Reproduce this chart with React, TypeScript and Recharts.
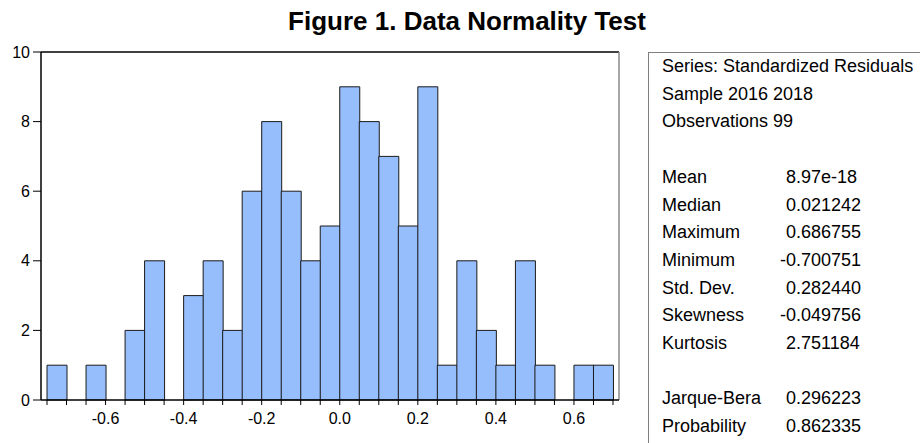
import { BarChart, Bar, XAxis, YAxis, ReferenceLine } from 'recharts';

// histogram bins (width 0.05), mid points and counts
const binMid = [
  -0.725, -0.675, -0.625, -0.575, -0.525, -0.475, -0.425, -0.375, -0.325, -0.275,
  -0.225, -0.175, -0.125, -0.075, -0.025, 0.025, 0.075, 0.125, 0.175, 0.225,
  0.275, 0.325, 0.375, 0.425, 0.475, 0.525, 0.575, 0.625, 0.675,
];
const counts = [1, 0, 1, 0, 2, 4, 0, 3, 4, 2, 6, 8, 6, 4, 5, 9, 8, 7, 5, 9, 1, 4, 2, 1, 4, 1, 0, 1, 1];

const binEdges = [
  -0.75, -0.7, -0.65, -0.6, -0.55, -0.5, -0.45, -0.4, -0.35, -0.3, -0.25, -0.2, -0.15, -0.1, -0.05,
  0, 0.05, 0.1, 0.15, 0.2, 0.25, 0.3, 0.35, 0.4, 0.45, 0.5, 0.55, 0.6, 0.65, 0.7,
];
const xLabelValues = [-0.6, -0.4, -0.2, 0, 0.2, 0.4, 0.6];
const xLabelTexts = ['-0.6', '-0.4', '-0.2', '0.0', '0.2', '0.4', '0.6'];
const yTicks = [0, 2, 4, 6, 8, 10];

const headerLines = ['Series: Standardized Residuals', 'Sample 2016 2018', 'Observations 99'];
const statNames = ['Mean', 'Median', 'Maximum', 'Minimum', 'Std. Dev.', 'Skewness', 'Kurtosis'];
const statValues = ['8.97e-18', '0.021242', '0.686755', '-0.700751', '0.282440', '-0.049756', '2.751184'];
const testNames = ['Jarque-Bera', 'Probability'];
const testValues = ['0.296223', '0.862335'];

const data = binMid.map((m, i) => ({ mid: m, count: counts[i] }));

const FONT = '"Liberation Sans", Arial, sans-serif';
const X_MIN = -0.7654;
const X_MAX = 0.7154;

const formatX = (v: number) => {
  const idx = xLabelValues.findIndex((l) => Math.abs(l - v) < 1e-6);
  return idx >= 0 ? xLabelTexts[idx] : '';
};

// numbers start in one column, a minus sign hangs to the left of it
const ValueText = ({ y, value }: { y: number; value: string }) => (
  <text
    x={786}
    y={y}
    dx={value.startsWith('-') ? '-0.333em' : 0}
    fontSize={18}
    fontFamily={FONT}
    fill="#000"
  >
    {value}
  </text>
);

export default function App() {
  const row0 = 72;
  const step = 27.7;
  return (
    <div
      style={{
        position: 'absolute',
        left: 0,
        top: 0,
        width: 920,
        height: 443,
        overflow: 'hidden',
        background: '#fff',
        fontFamily: FONT,
      }}
    >
      <div style={{ position: 'absolute', left: 0, top: 0 }}>
        <BarChart
          width={640}
          height={443}
          data={data}
          margin={{ top: 52, right: 21, bottom: 0, left: 0 }}
          barCategoryGap={0}
          barGap={0}
        >
          <XAxis
            dataKey="mid"
            type="number"
            domain={[X_MIN, X_MAX]}
            ticks={binEdges}
            interval={0}
            tickFormatter={formatX}
            height={43}
            tickSize={5}
            tickMargin={8}
            axisLine={{ stroke: '#000', strokeWidth: 1.5 }}
            tickLine={{ stroke: '#000' }}
            tick={{ fill: '#000', fontSize: 16, fontFamily: FONT }}
            allowDataOverflow
          />
          <YAxis
            type="number"
            domain={[0, 10]}
            ticks={yTicks}
            width={41}
            tickSize={8}
            tickMargin={3}
            axisLine={{ stroke: '#000', strokeWidth: 1.5 }}
            tickLine={{ stroke: '#000' }}
            tick={{ fill: '#000', fontSize: 16, fontFamily: FONT }}
          />
          <ReferenceLine y={10} stroke="#000" strokeWidth={1.5} />
          <ReferenceLine x={X_MAX} stroke="#8a8a8a" strokeWidth={1.5} />
          <Bar dataKey="count" fill="#96bdfc" stroke="#1a1a1a" strokeWidth={1} isAnimationActive={false} />
        </BarChart>
      </div>

      <div
        style={{
          position: 'absolute',
          left: 648,
          top: 52,
          width: 300,
          height: 420,
          borderLeft: '1.5px solid #808080',
          borderTop: '1.5px solid #808080',
        }}
      />

      <svg width={920} height={443} style={{ position: 'absolute', left: 0, top: 0 }}>
        <text x={467} y={30} textAnchor="middle" fontSize={26} fontWeight="bold" fontFamily={FONT} fill="#000">
          Figure 1. Data Normality Test
        </text>
        {headerLines.map((t, i) => (
          <text key={t} x={662} y={row0 + i * step} fontSize={18} fontFamily={FONT} fill="#000">
            {t}
          </text>
        ))}
        {statNames.map((t, i) => (
          <g key={t}>
            <text x={662} y={row0 + (i + 4) * step} fontSize={18} fontFamily={FONT} fill="#000">
              {t}
            </text>
            <ValueText y={row0 + (i + 4) * step} value={statValues[i]} />
          </g>
        ))}
        {testNames.map((t, i) => (
          <g key={t}>
            <text x={662} y={row0 + (i + 12) * step} fontSize={18} fontFamily={FONT} fill="#000">
              {t}
            </text>
            <ValueText y={row0 + (i + 12) * step} value={testValues[i]} />
          </g>
        ))}
      </svg>
    </div>
  );
}
